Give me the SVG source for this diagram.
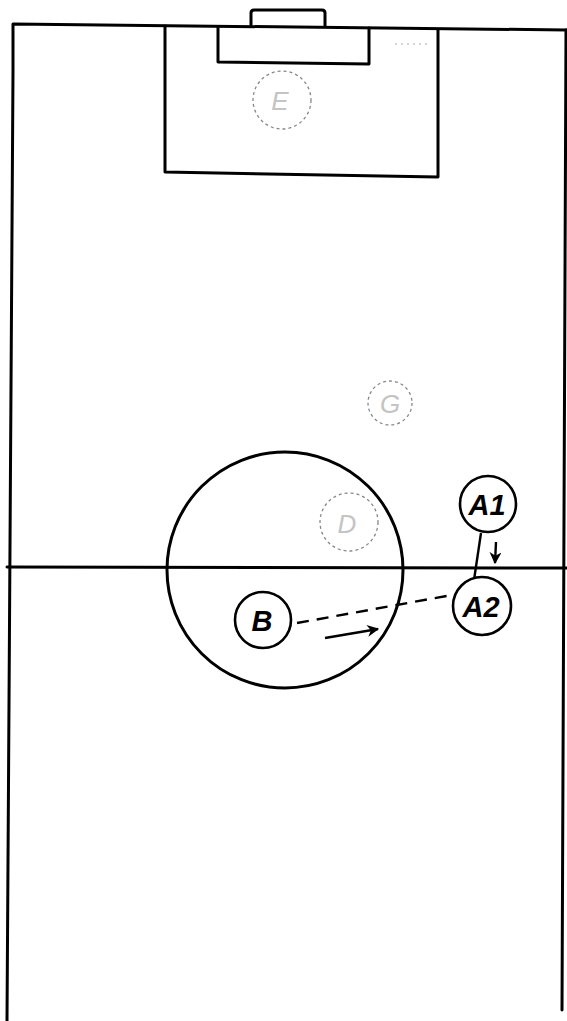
<svg xmlns="http://www.w3.org/2000/svg" width="567" height="1021" viewBox="0 0 567 1021">
<style>
.line{fill:none;stroke:#000;stroke-width:3;stroke-linecap:round;stroke-linejoin:round}
.thin{fill:none;stroke:#000;stroke-width:2.4}
.node{fill:#fff;stroke:#000;stroke-width:2.6}
.ghost{fill:none;stroke:#888;stroke-width:1.3;stroke-dasharray:3 3}
.lbl{font-family:"Liberation Sans",Arial,sans-serif;font-weight:bold;font-style:italic;font-size:29px;text-anchor:middle;fill:#000}
.glbl{font-family:"Liberation Sans",Arial,sans-serif;font-style:italic;font-size:26px;text-anchor:middle;fill:#c4c4c4}
</style>
<defs>
<marker id="ah" viewBox="0 0 10 10" refX="9" refY="5" markerWidth="5" markerHeight="5" orient="auto">
<path d="M0,0 L10,5 L0,10 L3,5 Z" fill="#000"/>
</marker>
</defs>
<g id="field">
<path class="line" d="M7,1021 L13,71 L13,24 L567,30"/>
<path class="line" d="M562,1010 L566,30"/>
<path class="line" d="M7,567 L567,568"/>
<path class="line" d="M165,26 L165,172 L438,177 L438,30"/>
<path class="line" d="M218,27 L218,62 L369,64 L369,28"/>
<path class="line" d="M251,25 L251,13 Q251,10 254,10 L322,10 Q325,10 325,13 L325,26"/>
<circle class="line" cx="285" cy="570" r="118"/>
<path d="M395,44 L430,44" stroke="#aaa" stroke-width="1" stroke-dasharray="2 4"/>
</g>
<g id="E"><circle class="ghost" cx="282" cy="100" r="29"/><text class="glbl" x="280" y="110">E</text></g>
<g id="G"><circle class="ghost" cx="390" cy="403" r="22"/><text class="glbl" x="390" y="413">G</text></g>
<g id="D"><circle class="ghost" cx="349" cy="522" r="29"/><text class="glbl" x="347" y="533">D</text></g>
<g id="connectors">
<path class="thin" d="M481,533 L474,580"/>
<path class="thin" d="M496,542 L495,563" marker-end="url(#ah)"/>
<path class="thin" d="M297,623 L452,595" stroke-dasharray="12 8"/>
<path class="thin" d="M325,638 L378,629" marker-end="url(#ah)"/>
</g>
<g id="A1"><circle class="node" cx="488" cy="504" r="28"/><text class="lbl" x="487" y="515">A1</text></g>
<g id="A2"><circle class="node" cx="482" cy="606" r="29"/><text class="lbl" x="481" y="617">A2</text></g>
<g id="B"><circle class="node" cx="263" cy="620" r="28"/><text class="lbl" x="262" y="631">B</text></g>
</svg>
